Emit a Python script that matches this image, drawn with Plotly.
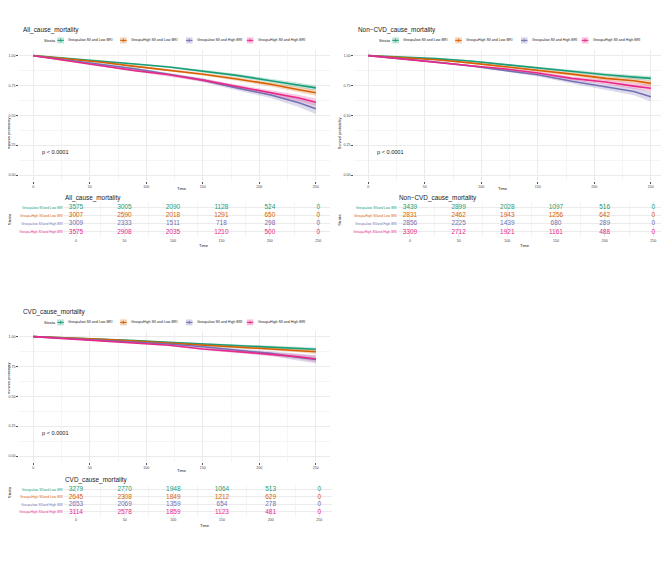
import plotly.graph_objects as go

# the page body adds an 8px margin, so the figure is drawn 8px in from the window edge
PAGE = 8
W, H = 669 - PAGE, 561 - PAGE

GROUPS = [
    "Group=low SII and Low BRI",
    "Group=High SII and Low BRI",
    "Group=low SII and High BRI",
    "Group=High SII and High BRI",
]
TABLE_LABELS = [
    "Group=low SIIand Low BRI",
    "Group=High SIIand Low BRI",
    "Group=low SIIand High BRI",
    "Group=High SIIand High BRI",
]
COLORS = ["#1B9E77", "#D95F02", "#7570B3", "#E7298A"]

TIMES = [0, 30, 60, 90, 120, 150, 180, 210, 235, 250]
RISK_TIMES = [0, 50, 100, 150, 200, 250]

# survival estimates, per group (green, orange, purple, pink)
ALL_SURV = [
    [1, .978, .955, .930, .905, .870, .835, .790, .755, .730],
    [1, .972, .945, .910, .880, .845, .805, .760, .715, .690],
    [1, .965, .930, .890, .845, .795, .730, .670, .605, .555],
    [1, .955, .915, .875, .840, .795, .740, .690, .645, .610],
]
ALL_CI = [
    [0, .003, .005, .007, .009, .011, .013, .016, .019, .022],
    [0, .003, .005, .008, .010, .012, .015, .018, .022, .025],
    [0, .004, .006, .009, .012, .015, .019, .025, .035, .045],
    [0, .004, .006, .008, .010, .013, .016, .020, .026, .032],
]
ALL_RISK = [
    [3575, 3005, 2090, 1128, 524, 0],
    [3007, 2590, 2018, 1291, 650, 0],
    [3009, 2333, 1511, 718, 298, 0],
    [3575, 2908, 2035, 1210, 500, 0],
]

NONCVD_SURV = [
    [1, .990, .975, .955, .925, .900, .866, .840, .820, .810],
    [1, .985, .966, .940, .910, .875, .845, .810, .790, .768],
    [1, .975, .947, .915, .880, .840, .785, .740, .700, .656],
    [1, .970, .944, .915, .890, .855, .810, .780, .745, .727],
]
NONCVD_CI = [
    [0, .002, .004, .006, .008, .010, .012, .014, .017, .020],
    [0, .003, .005, .007, .009, .011, .014, .017, .021, .025],
    [0, .004, .006, .008, .011, .014, .018, .024, .032, .040],
    [0, .003, .005, .007, .009, .012, .015, .019, .025, .030],
]
NONCVD_RISK = [
    [3439, 2899, 2028, 1097, 516, 0],
    [2831, 2462, 1943, 1256, 642, 0],
    [2856, 2225, 1439, 680, 289, 0],
    [3309, 2712, 1921, 1161, 488, 0],
]

CVD_SURV = [
    [1, .990, .980, .968, .953, .939, .925, .914, .903, .894],
    [1, .990, .978, .963, .947, .930, .916, .900, .885, .874],
    [1, .985, .970, .955, .939, .916, .888, .860, .826, .810],
    [1, .982, .965, .948, .928, .897, .877, .852, .832, .813],
]
CVD_CI = [
    [0, .002, .003, .004, .005, .007, .008, .010, .013, .015],
    [0, .002, .003, .005, .006, .008, .010, .012, .016, .020],
    [0, .003, .004, .006, .008, .011, .015, .020, .028, .035],
    [0, .002, .004, .005, .007, .009, .012, .015, .020, .025],
]
CVD_RISK = [
    [3279, 2770, 1948, 1064, 513, 0],
    [2645, 2308, 1849, 1212, 629, 0],
    [2653, 2069, 1359, 654, 278, 0],
    [3114, 2578, 1859, 1123, 481, 0],
]

PANELS = [
    # title, surv, ci, risk, plot box px (x0, x1, y0, y1), table box px, legend offset
    ("All_cause_mortality", ALL_SURV, ALL_CI, ALL_RISK,
     (19.2, 330, 49.7, 181), (63.9, 330.4, 202.4, 236.9), (0, 0)),
    ("Non\u2212CVD_cause_mortality", NONCVD_SURV, NONCVD_CI, NONCVD_RISK,
     (354.2, 665, 49.7, 181), (397.8, 665.5, 202.4, 236.9), (335, 0)),
    ("CVD_cause_mortality", CVD_SURV, CVD_CI, CVD_RISK,
     (19.2, 330, 330.7, 462), (63.8, 331.5, 484.8, 516.5), (0, 282)),
]

FONT = "Liberation Sans, Arial, sans-serif"
GRID = "#EBEBEB"
MINOR = "#F5F5F5"


def rgba(hex_color, a):
    h = hex_color.lstrip("#")
    r, g, b = int(h[0:2], 16), int(h[2:4], 16), int(h[4:6], 16)
    return f"rgba({r},{g},{b},{a})"


def px_x(x):
    return (x - PAGE) / W


def px_y(y):
    return 1 - (y - PAGE) / H


fig = go.Figure()
annotations = []
shapes = []
layout = {}

for i, (title, surv, ci, risk, pbox, tbox, off) in enumerate(PANELS):
    pa = 2 * i + 1
    ta = 2 * i + 2
    px_name = "x" if pa == 1 else f"x{pa}"
    py_name = "y" if pa == 1 else f"y{pa}"
    tx_name, ty_name = f"x{ta}", f"y{ta}"

    # survival curves with confidence bands
    for g in range(4):
        upper = [min(1, s + c) for s, c in zip(surv[g], ci[g])]
        lower = [s - c for s, c in zip(surv[g], ci[g])]
        fig.add_trace(go.Scatter(x=TIMES, y=upper, mode="lines", line=dict(width=0),
                                 xaxis=px_name, yaxis=py_name, showlegend=False,
                                 hoverinfo="skip"))
        fig.add_trace(go.Scatter(x=TIMES, y=lower, mode="lines", line=dict(width=0),
                                 fill="tonexty", fillcolor=rgba(COLORS[g], 0.25),
                                 xaxis=px_name, yaxis=py_name, showlegend=False,
                                 hoverinfo="skip"))
    for g in range(4):
        fig.add_trace(go.Scatter(x=TIMES, y=surv[g], mode="lines",
                                 line=dict(color=COLORS[g], width=1.6),
                                 name=GROUPS[g], xaxis=px_name, yaxis=py_name,
                                 showlegend=False))

    # risk table numbers
    for g in range(4):
        fig.add_trace(go.Scatter(x=RISK_TIMES, y=[4 - g] * len(RISK_TIMES),
                                 mode="text", text=[str(v) for v in risk[g]],
                                 textfont=dict(color=COLORS[g], size=6.5, family=FONT),
                                 xaxis=tx_name, yaxis=ty_name, showlegend=False))

    x0, x1, y0, y1 = pbox
    axis_common = dict(showline=False, zeroline=False, gridcolor=GRID, gridwidth=0.6,
                       ticks="outside", ticklen=2, tickcolor="#555", tickwidth=0.5,
                       tickfont=dict(size=3.6, color="#444", family=FONT))
    layout[f"xaxis{'' if pa == 1 else pa}"] = dict(
        domain=[px_x(x0), px_x(x1)], range=[-12.5, 262.5], anchor=py_name,
        tickvals=[0, 50, 100, 150, 200, 250],
        minor=dict(tickvals=[25, 75, 125, 175, 225], showgrid=True, gridcolor=MINOR,
                   ticks=""),
        **axis_common)
    layout[f"yaxis{'' if pa == 1 else pa}"] = dict(
        domain=[px_y(y1), px_y(y0)], range=[-0.05, 1.05], anchor=px_name,
        tickvals=[0, 0.25, 0.5, 0.75, 1], ticktext=["0.00", "0.25", "0.50", "0.75", "1.00"],
        minor=dict(tickvals=[0.125, 0.375, 0.625, 0.875], showgrid=True, gridcolor=MINOR,
                   ticks=""),
        **axis_common)

    tx0, tx1, ty0, ty1 = tbox
    layout[f"xaxis{ta}"] = dict(
        domain=[px_x(tx0), px_x(tx1)], range=[-12.5, 262.5], anchor=ty_name,
        tickvals=[0, 50, 100, 150, 200, 250],
        minor=dict(tickvals=[25, 75, 125, 175, 225], showgrid=True, gridcolor=MINOR,
                   ticks=""),
        showline=False, zeroline=False, gridcolor=GRID, gridwidth=0.6, ticks="",
        tickfont=dict(size=3.6, color="#444", family=FONT))
    layout[f"yaxis{ta}"] = dict(
        domain=[px_y(ty1), px_y(ty0)], range=[0.4, 4.6], anchor=tx_name,
        tickvals=[4, 3, 2, 1],
        ticktext=[f"<span style='color:{COLORS[g]}'>{TABLE_LABELS[g]}</span>"
                  for g in range(4)],
        showline=False, zeroline=False, gridcolor=GRID, gridwidth=0.6, ticks="",
        tickfont=dict(size=3.4, family=FONT))

    ox, oy = off
    txt = dict(family=FONT, color="#222")
    # panel titles
    annotations.append(dict(x=px_x(20.5 + ox), y=px_y(30 + oy), xref="paper", yref="paper",
                            text=title, showarrow=False, xanchor="left", yanchor="middle",
                            font=dict(size=6.4, **txt)))
    annotations.append(dict(x=px_x(tx0 - 0.8), y=px_y(ty0 - 4.5), xref="paper", yref="paper",
                            text=title, showarrow=False, xanchor="left", yanchor="middle",
                            font=dict(size=6.4, **txt)))
    # axis titles
    annotations.append(dict(x=px_x((x0 + x1) / 2), y=px_y(y1 + 8), xref="paper", yref="paper",
                            text="Time", showarrow=False, yanchor="middle",
                            font=dict(size=4.2, **txt)))
    annotations.append(dict(x=px_x((tx0 + tx1) / 2), y=px_y(ty1 + 8.5), xref="paper",
                            yref="paper", text="Time", showarrow=False, yanchor="middle",
                            font=dict(size=4.2, **txt)))
    annotations.append(dict(x=px_x(5 + ox), y=px_y((y0 + y1) / 2), xref="paper", yref="paper",
                            text="Survival probability", showarrow=False, textangle=-90,
                            font=dict(size=3.8, **txt)))
    annotations.append(dict(x=px_x(5 + ox), y=px_y((ty0 + ty1) / 2), xref="paper",
                            yref="paper", text="Strata", showarrow=False, textangle=-90,
                            font=dict(size=4.2, **txt)))
    # p-value
    annotations.append(dict(x=6, y=0.19, xref=px_name, yref=py_name, text="p < 0.0001",
                            showarrow=False, xanchor="left", yanchor="middle",
                            font=dict(size=5.6, **txt)))

    # manual legend row
    ly = 40.4 + oy
    annotations.append(dict(x=px_x(41.5 + ox), y=px_y(ly), xref="paper", yref="paper",
                            text="Strata", showarrow=False, xanchor="left", yanchor="middle",
                            font=dict(size=4.2, **txt)))
    key_x = [57.3, 120.2, 186.0, 246.8]
    for g in range(4):
        kx = key_x[g] + ox
        shapes.append(dict(type="rect", xref="paper", yref="paper",
                           x0=px_x(kx), x1=px_x(kx + 6.5), y0=px_y(ly + 3), y1=px_y(ly - 3),
                           fillcolor=rgba(COLORS[g], 0.3), line=dict(width=0)))
        shapes.append(dict(type="line", xref="paper", yref="paper",
                           x0=px_x(kx), x1=px_x(kx + 6.5), y0=px_y(ly), y1=px_y(ly),
                           line=dict(color=COLORS[g], width=1)))
        shapes.append(dict(type="line", xref="paper", yref="paper",
                           x0=px_x(kx + 3.25), x1=px_x(kx + 3.25), y0=px_y(ly + 1.5),
                           y1=px_y(ly - 1.5), line=dict(color=COLORS[g], width=0.8)))
        annotations.append(dict(x=px_x(kx + 9), y=px_y(ly), xref="paper", yref="paper",
                                text=GROUPS[g], showarrow=False, xanchor="left",
                                yanchor="middle", font=dict(size=3.6, **txt)))

fig.update_layout(
    width=W, height=H,
    margin=dict(l=0, r=0, t=0, b=0),
    paper_bgcolor="white", plot_bgcolor="white",
    font=dict(family=FONT),
    showlegend=False,
    annotations=annotations,
    shapes=shapes,
    **layout,
)

fig.write_html("out.html")
